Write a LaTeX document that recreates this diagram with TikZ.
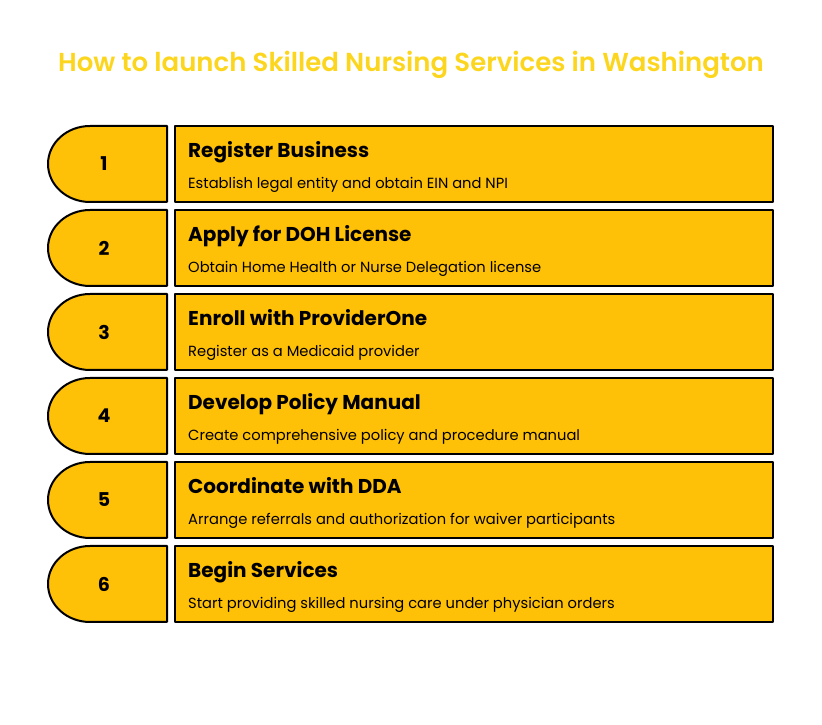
\documentclass[tikz,border=0pt]{standalone}
\usepackage{fontspec}
\setmainfont{Poppins}
\newfontfamily\headfont{Poppins}[UprightFont=* SemiBold]
\newfontfamily\boldfont{Poppins}[UprightFont=* Bold]
\definecolor{amber}{HTML}{FFC107}
\definecolor{titlecol}{HTML}{FCD61E}
\begin{document}
\begin{tikzpicture}[x=1pt,y=1pt,
  shapebox/.style={draw=black,line width=2pt,fill=amber,line join=round},
  numtext/.style={inner sep=0pt,font=\boldfont\fontsize{19}{19}\selectfont},
  headtext/.style={anchor=base west,inner sep=0pt,font=\boldfont\fontsize{20}{20}\selectfont},
  desctext/.style={anchor=base west,inner sep=0pt,font=\fontsize{14.7}{14.7}\selectfont}]
\useasboundingbox (0,0) rectangle (822,725);
\node[anchor=base,inner sep=0pt,text=titlecol,font=\headfont\fontsize{26}{26}\selectfont] (title) at (411,653) {How to launch Skilled Nursing Services in Washington};
\foreach \k/\head/\desc in {
 0/Register Business/Establish legal entity and obtain EIN and NPI,
 1/Apply for DOH License/Obtain Home Health or Nurse Delegation license,
 2/Enroll with ProviderOne/Register as a Medicaid provider,
 3/Develop Policy Manual/Create comprehensive policy and procedure manual,
 4/Coordinate with DDA/Arrange referrals and authorization for waiver participants,
 5/Begin Services/Start providing skilled nursing care under physician orders}{
  \pgfmathsetmacro\top{599-84*\k}
  \pgfmathsetmacro\bot{523-84*\k}
  \pgfmathsetmacro\mid{561-84*\k}
  \draw[shapebox] (167,\top) -- (90,\top) arc[start angle=90,end angle=270,x radius=42,y radius=38] -- (167,\bot) -- cycle;
  \draw[shapebox] (175,\top) rectangle (773,\bot);
  \pgfmathtruncatemacro\n{\k+1}
  \node[numtext] (num\n) at (104,\mid) {\n};
  \node[headtext] (head\n) at (188,\mid+6) {\head};
  \node[desctext] (desc\n) at (188,\mid-25) {\desc};
}
\end{tikzpicture}
\end{document}
